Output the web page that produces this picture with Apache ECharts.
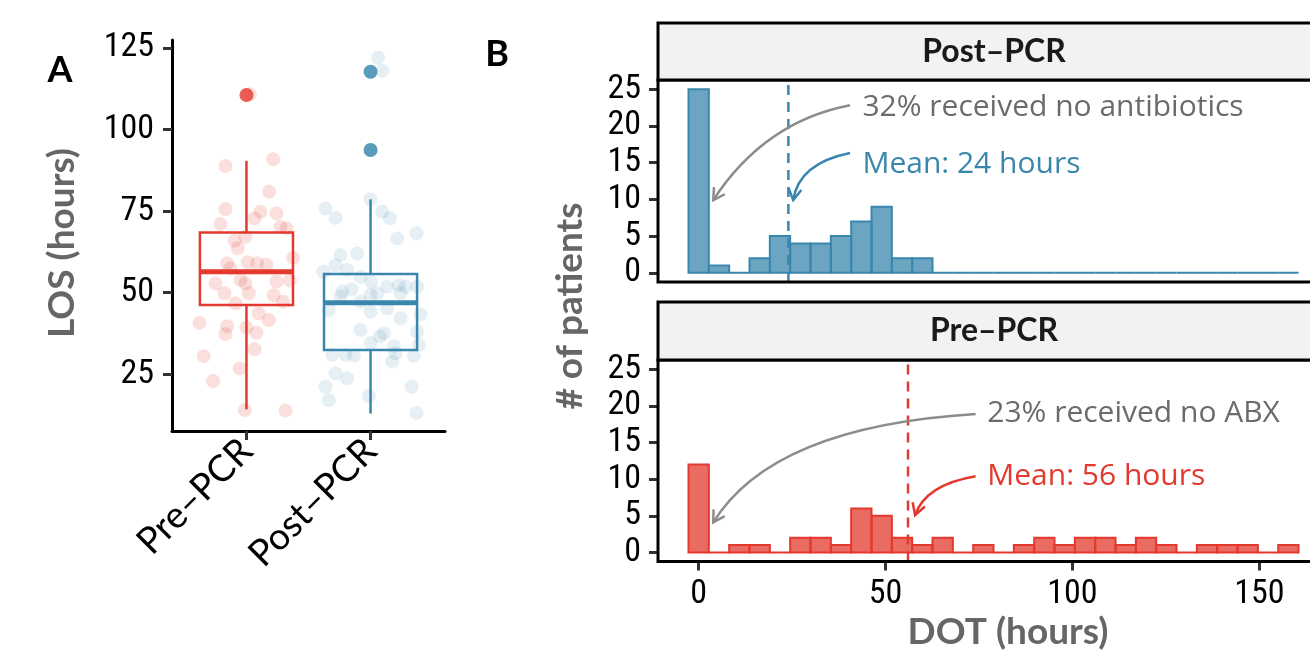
<!DOCTYPE html>
<html>
<head>
<meta charset="utf-8">
<script src="https://cdn.jsdelivr.net/npm/echarts@6/dist/echarts.min.js"></script>
<style>html,body{margin:0;padding:0;background:#fff;}#c{width:1310px;height:650px;}</style>
</head>
<body>
<div id="c"></div>
<script>
// ---------- DATA ----------
const groups = ['Pre–PCR', 'Post–PCR'];
// boxplot stats: [low whisker, Q1, median, Q3, high whisker]
const preBox = [14.2, 46.2, 56.4, 68.4, 90.4];
const postBox = [12.9, 32.4, 46.9, 55.7, 78.6];
const preOutliers = [[1, 110.6]];
const postOutliers = [[2, 117.7], [2, 93.7]];
const preJitter = [[1.027,110.8],[0.831,88.8],[1.215,90.9],[1.183,80.9],[0.831,75.6],[1.113,74.8],[1.242,74.3],[1.065,72.8],[0.79,71],[1.274,70.2],[1.323,69.7],[0.992,67.1],[0.906,65.9],[0.93,63.6],[1.376,60.7],[0.844,59],[1.011,59.3],[1.086,59],[1.161,58.5],[0.871,57.4],[0.75,52.8],[0.952,53.9],[1.242,53.4],[1.349,53.7],[0.823,49.8],[1.019,49.8],[1.22,49.2],[1.296,47.2],[0.911,46.7],[1.099,43.6],[0.621,40.7],[1.18,41.6],[0.844,39.7],[1.0,39.3],[0.831,37.3],[1.081,37.7],[1.065,32.6],[0.656,30.5],[0.946,26.7],[0.731,22.9],[0.987,14],[1.315,13.8],[0.992,52.8]];
const postJitter = [[2.062,122],[2.094,118],[2.0,117.7],[2.0,93.7],[2.0,78.6],[1.637,75.8],[1.718,72.9],[2.094,74.8],[2.156,72.8],[2.371,68.2],[2.215,66.6],[1.892,62],[1.758,61.5],[1.718,58.4],[1.812,56.9],[1.619,56.4],[1.919,54.8],[2.134,51.8],[2.228,52.3],[2.282,51.8],[2.376,51.8],[1.847,51],[1.772,50.3],[2.0,49.3],[2.054,49.8],[2.242,49.8],[1.919,47.2],[2.134,45.1],[1.664,44.6],[2.0,44.1],[2.403,43.3],[2.242,42.1],[1.919,38.5],[2.108,37.5],[2.376,38],[2.075,36.5],[2.0,34.5],[2.39,34],[2.188,33.5],[1.866,30.6],[1.691,30.9],[1.798,30.9],[2.202,31.4],[2.349,30.6],[2.175,28.9],[1.718,25.2],[1.812,23.7],[1.637,21.1],[2.331,21.1],[1.664,17],[1.987,18.3],[2.371,13.1],[2.005,53.3],[1.758,48.8]];

// histogram (30 bins, bin centers at i*binWidth)
const binWidth = 5.44;
const postCounts = [25,1,0,2,5,4,4,5,7,9,2,2,0,0,0,0,0,0,0,0,0,0,0,0,0,0,0,0,0,0];
const preCounts  = [12,0,1,1,0,2,2,1,6,5,2,1,2,0,1,0,1,2,1,2,2,1,2,1,0,1,1,1,0,1];
const postMean = 24;
const preMean = 56;
const histYTicks = [0, 5, 10, 15, 20, 25];
const histXTicks = [0, 50, 100, 150];
const losTicks = [25, 50, 75, 100, 125];

// annotations: [x0,y0, cx,cy, x1,y1] in data units
const postArrows = [
  {value:[40.5,22.8,17.7,20.6,3.9,9.9], color:'#8c8c8c'},
  {value:[40.5,16.3,26.8,14.9,25.3,9.9], color:'#3a87ad'}
];
const preArrows = [
  {value:[74.1,18.9,19.7,17.2,3.9,4.1], color:'#8c8c8c'},
  {value:[74.1,10.4,60.7,9.25,57.9,5.1], color:'#e3392e'}
];
const postNotes = [
  {value:[43.8,22.55], text:'32% received no antibiotics', color:'#6b6b6b'},
  {value:[43.8,14.7], text:'Mean: 24 hours', color:'#3a87ad'}
];
const preNotes = [
  {value:[77.2,18.9], text:'23% received no ABX', color:'#6b6b6b'},
  {value:[77.2,10.4], text:'Mean: 56 hours', color:'#e3392e'}
];

// ---------- STYLE / LAYOUT ----------
const RED = '#e3392e', BLUE = '#3a87ad';
const RED_FILL = 'rgba(227,57,46,0.75)', BLUE_FILL = 'rgba(58,135,173,0.75)';
const NUMFONT = "'Liberation Sans Narrow','Roboto Condensed','DejaVu Sans Condensed',sans-serif";
const TITLEFONT = "Lato, 'Open Sans', sans-serif";
const PX_PER_UNIT = 3.738;            // horizontal scale of panel B (panel is cropped at the right edge)
const HIST_LEFT = 658, HIST_W = 652;
const xMinB = -2 * binWidth;
const xMaxB = xMinB + HIST_W / PX_PER_UNIT;

const chart = echarts.init(document.getElementById('c'), null, {renderer:'canvas'});

function histRender(fill, stroke) {
  return function (params, api) {
    const i = api.value(0), c = api.value(1);
    const p0 = api.coord([(i - 0.5) * binWidth, c]);
    const p1 = api.coord([(i + 0.5) * binWidth, 0]);
    return {type:'rect', shape:{x:p0[0], y:p0[1], width:p1[0]-p0[0], height:p1[1]-p0[1]},
      style:{fill:fill, stroke:stroke, lineWidth:2}};
  };
}
function arrowRender(params, api) {
  const d = [0,1,2,3,4,5].map(k => api.value(k));
  const p0 = api.coord([d[0], d[1]]), c = api.coord([d[2], d[3]]), p1 = api.coord([d[4], d[5]]);
  const col = api.visual('color');
  const ang = Math.atan2(p1[1]-c[1], p1[0]-c[0]);
  const L = 13, a = Math.PI/6;
  const h1 = [p1[0] - L*Math.cos(ang - a), p1[1] - L*Math.sin(ang - a)];
  const h2 = [p1[0] - L*Math.cos(ang + a), p1[1] - L*Math.sin(ang + a)];
  return {type:'group', children:[
    {type:'bezierCurve', shape:{x1:p0[0], y1:p0[1], cpx1:c[0], cpy1:c[1], x2:p1[0], y2:p1[1]},
      style:{stroke:col, lineWidth:2.5, fill:null}},
    {type:'polyline', shape:{points:[h1, p1, h2]}, style:{stroke:col, lineWidth:2.5, fill:null}}
  ]};
}
function noteRender(notes) {
  return function (params, api) {
    const p = api.coord([api.value(0), api.value(1)]);
    const n = notes[params.dataIndex];
    return {type:'text', x:p[0], y:p[1], style:{text:n.text, fill:n.color,
      font:"30px 'Open Sans', sans-serif", textAlign:'left', textVerticalAlign:'middle'}};
  };
}
function boxRender(color) {
  return function (params, api) {
    const x = api.value(0);
    const v = [1,2,3,4,5].map(k => api.value(k));
    const hw = 0.375;
    const lo = api.coord([x, v[0]]), q1l = api.coord([x - hw, v[1]]), q3r = api.coord([x + hw, v[3]]);
    const medl = api.coord([x - hw, v[2]]), medr = api.coord([x + hw, v[2]]);
    const q1 = api.coord([x, v[1]]), q3 = api.coord([x, v[3]]), hi = api.coord([x, v[4]]);
    return {type:'group', children:[
      {type:'line', shape:{x1:lo[0], y1:lo[1], x2:q1[0], y2:q1[1]}, style:{stroke:color, lineWidth:2.5}},
      {type:'line', shape:{x1:q3[0], y1:q3[1], x2:hi[0], y2:hi[1]}, style:{stroke:color, lineWidth:2.5}},
      {type:'rect', shape:{x:q1l[0], y:q3r[1], width:q3r[0]-q1l[0], height:q1l[1]-q3r[1]},
        style:{fill:'none', stroke:color, lineWidth:2.5}},
      {type:'line', shape:{x1:medl[0], y1:medl[1], x2:medr[0], y2:medr[1]}, style:{stroke:color, lineWidth:5}}
    ]};
  };
}

const tickStyle = {show:true, length:9, lineStyle:{color:'#333', width:3}};
const numLabel = {fontFamily:NUMFONT, fontSize:34, color:'#000'};

const option = {
  animation:false,
  grid:[
    {left:172, top:40, width:273, height:391, show:false},
    {left:HIST_LEFT, top:80, width:HIST_W, height:202, show:false},
    {left:HIST_LEFT, top:360, width:HIST_W, height:201.6, show:false}
  ],
  xAxis:[
    {type:'value', gridIndex:0, min:0.4, max:2.6, splitLine:{show:false},
      axisLine:{show:true, onZero:false, lineStyle:{color:'#000', width:3}},
      axisTick:Object.assign({customValues:[1,2]}, tickStyle),
      axisLabel:Object.assign({customValues:[1,2], rotate:45, margin:14,
        formatter:v => groups[Math.round(v)-1]}, numLabel, {fontFamily:TITLEFONT, fontSize:37})},
    {type:'value', gridIndex:1, min:xMinB, max:xMaxB, splitLine:{show:false},
      axisLine:{show:false, onZero:false}, axisTick:{show:false}, axisLabel:{show:false}},
    {type:'value', gridIndex:2, min:xMinB, max:xMaxB, splitLine:{show:false},
      axisLine:{show:false, onZero:false},
      axisTick:Object.assign({customValues:histXTicks}, tickStyle),
      axisLabel:Object.assign({customValues:histXTicks, margin:16, hideOverlap:false}, numLabel)}
  ],
  yAxis:[
    {type:'value', gridIndex:0, min:7.55, max:127.45, splitLine:{show:false},
      axisLine:{show:true, onZero:false, lineStyle:{color:'#000', width:3}},
      axisTick:Object.assign({customValues:losTicks}, tickStyle),
      axisLabel:Object.assign({customValues:losTicks, margin:18}, numLabel)},
    {type:'value', gridIndex:1, min:-1.25, max:26.25, splitLine:{show:false}, axisLine:{show:false, onZero:false},
      axisTick:Object.assign({customValues:histYTicks}, tickStyle),
      axisLabel:Object.assign({customValues:histYTicks, margin:17}, numLabel)},
    {type:'value', gridIndex:2, min:-1.25, max:26.25, splitLine:{show:false}, axisLine:{show:false, onZero:false},
      axisTick:Object.assign({customValues:histYTicks}, tickStyle),
      axisLabel:Object.assign({customValues:histYTicks, margin:17}, numLabel)}
  ],
  series:[
    // panel A
    {type:'scatter', xAxisIndex:0, yAxisIndex:0, data:preJitter, symbolSize:14,
      itemStyle:{color:'rgba(227,57,46,0.2)'}, z:1},
    {type:'scatter', xAxisIndex:0, yAxisIndex:0, data:postJitter, symbolSize:14,
      itemStyle:{color:'rgba(58,135,173,0.17)'}, z:1},
    {type:'custom', xAxisIndex:0, yAxisIndex:0, renderItem:boxRender(RED), data:[[1].concat(preBox)], z:2},
    {type:'custom', xAxisIndex:0, yAxisIndex:0, renderItem:boxRender(BLUE), data:[[2].concat(postBox)], z:2},
    {type:'scatter', xAxisIndex:0, yAxisIndex:0, data:preOutliers, symbolSize:14, itemStyle:{color:RED}, z:3},
    {type:'scatter', xAxisIndex:0, yAxisIndex:0, data:postOutliers, symbolSize:14, itemStyle:{color:BLUE}, z:3},
    // panel B top (Post-PCR)
    {type:'custom', xAxisIndex:1, yAxisIndex:1, renderItem:histRender(BLUE_FILL, BLUE),
      data:postCounts.map((c,i) => [i, c]), z:2},
    {type:'line', xAxisIndex:1, yAxisIndex:1, data:[[postMean,-1.25],[postMean,26.25]], symbol:'none',
      lineStyle:{color:BLUE, width:2.5, type:[10,7]}, z:3},
    {type:'custom', xAxisIndex:1, yAxisIndex:1, renderItem:arrowRender, data:postArrows.map(a => ({value:a.value, itemStyle:{color:a.color}})), z:4},
    {type:'custom', xAxisIndex:1, yAxisIndex:1, renderItem:noteRender(postNotes), data:postNotes.map(n => n.value), z:4},
    // panel B bottom (Pre-PCR)
    {type:'custom', xAxisIndex:2, yAxisIndex:2, renderItem:histRender(RED_FILL, RED),
      data:preCounts.map((c,i) => [i, c]), z:2},
    {type:'line', xAxisIndex:2, yAxisIndex:2, data:[[preMean,-1.25],[preMean,26.25]], symbol:'none',
      lineStyle:{color:RED, width:2.5, type:[10,7]}, z:3},
    {type:'custom', xAxisIndex:2, yAxisIndex:2, renderItem:arrowRender, data:preArrows.map(a => ({value:a.value, itemStyle:{color:a.color}})), z:4},
    {type:'custom', xAxisIndex:2, yAxisIndex:2, renderItem:noteRender(preNotes), data:preNotes.map(n => n.value), z:4}
  ],
  graphic:[
    // panel borders (panel B is cropped by the right edge of the figure)
    {type:'rect', shape:{x:HIST_LEFT, y:80, width:700, height:202}, style:{fill:null, stroke:'#000', lineWidth:3}, z:10},
    {type:'rect', shape:{x:HIST_LEFT, y:360, width:700, height:201.6}, style:{fill:null, stroke:'#000', lineWidth:3}, z:10},
    // facet strips
    {type:'rect', shape:{x:HIST_LEFT, y:23, width:700, height:57}, style:{fill:'#f2f2f2', stroke:'#000', lineWidth:3}, z:10},
    {type:'text', x:994, y:52, style:{text:'Post–PCR', font:"bold 32px " + TITLEFONT, fill:'#1a1a1a', textAlign:'center', textVerticalAlign:'middle'}, z:11},
    {type:'rect', shape:{x:HIST_LEFT, y:302, width:700, height:58}, style:{fill:'#f2f2f2', stroke:'#000', lineWidth:3}, z:10},
    {type:'text', x:994, y:331, style:{text:'Pre–PCR', font:"bold 32px " + TITLEFONT, fill:'#1a1a1a', textAlign:'center', textVerticalAlign:'middle'}, z:11},
    {type:'text', x:62, y:243, rotation:Math.PI/2, style:{text:'LOS (hours)', font:"bold 37px " + TITLEFONT, fill:'#666', textAlign:'center', textVerticalAlign:'middle'}},
    {type:'text', x:570, y:306, rotation:Math.PI/2, style:{text:'# of patients', font:"bold 37px " + TITLEFONT, fill:'#666', textAlign:'center', textVerticalAlign:'middle'}},
    {type:'text', x:1008, y:632, style:{text:'DOT (hours)', font:"bold 37px " + TITLEFONT, fill:'#666', textAlign:'center', textVerticalAlign:'middle'}},
    {type:'text', x:60, y:70, style:{text:'A', font:"bold 36px " + TITLEFONT, fill:'#000', textAlign:'center', textVerticalAlign:'middle'}},
    {type:'text', x:497, y:54, style:{text:'B', font:"bold 36px " + TITLEFONT, fill:'#000', textAlign:'center', textVerticalAlign:'middle'}}
  ]
};
chart.setOption(option);
</script>
</body>
</html>
